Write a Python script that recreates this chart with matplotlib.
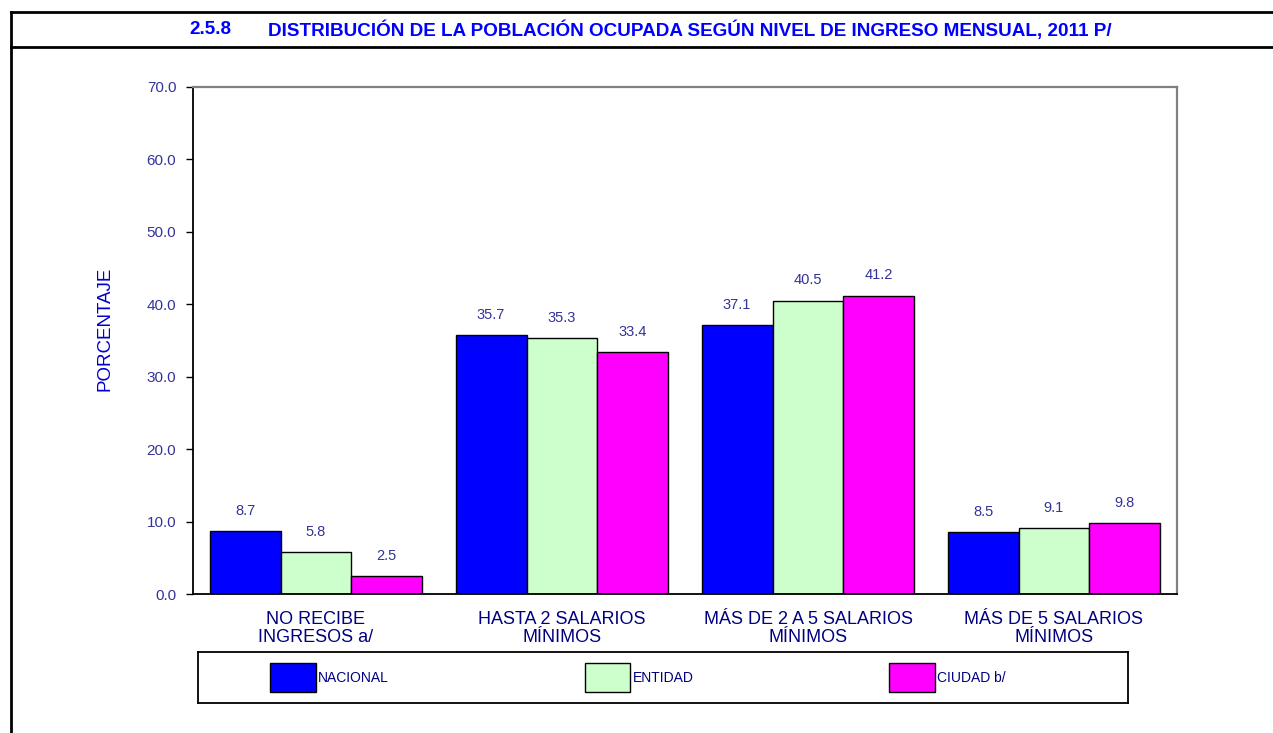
import numpy as np
import matplotlib
matplotlib.use("Agg")
import matplotlib.pyplot as plt
from matplotlib.lines import Line2D

################################################################
categorias = ["NO RECIBE\nINGRESOS a/", "HASTA 2 SALARIOS\nMÍNIMOS",
              "MÁS DE 2 A 5 SALARIOS\nMÍNIMOS", "MÁS DE 5 SALARIOS\nMÍNIMOS"]
nacional = [8.7, 35.7, 37.1, 8.5]
entidad = [5.8, 35.3, 40.5, 9.1]
ciudad = [2.5, 33.4, 41.2, 9.8]
series = ["NACIONAL", "ENTIDAD", "CIUDAD b/"]
colores = ["#0000FF", "#CCFFCC", "#FF00FF"]
yticks = [0, 10, 20, 30, 40, 50, 60, 70]
################################################################

plt.rcParams['font.family'] = ['Liberation Sans', 'DejaVu Sans']

W, H = 1273, 733
fig = plt.figure(figsize=(W / 100, H / 100), dpi=100)

# frame lines of the sheet
lw = 2
fig.add_artist(Line2D([11 / W, 1], [1 - 12 / H, 1 - 12 / H], color="black", lw=lw))
fig.add_artist(Line2D([11 / W, 1], [1 - 47 / H, 1 - 47 / H], color="black", lw=lw))
fig.add_artist(Line2D([11 / W, 11 / W], [0, 1 - 12 / H], color="black", lw=lw))

fig.text(189 / W, 1 - 30 / H, "2.5.8", color="#0000FF", fontsize=13.6,
         fontweight="bold", va="center", ha="left")
fig.text(268 / W, 1 - 30 / H,
         "DISTRIBUCIÓN DE LA POBLACIÓN OCUPADA SEGÚN NIVEL DE INGRESO MENSUAL, 2011 P/",
         color="#0000FF", fontsize=13.6, fontweight="bold", va="center", ha="left")

ax = fig.add_axes([193 / W, 1 - 594 / H, (1177 - 193) / W, (594 - 87) / H])
x = np.arange(len(categorias))
width = 0.288
for i, (vals, col) in enumerate(zip([nacional, entidad, ciudad], colores)):
    bars = ax.bar(x + (i - 1) * width, vals, width, color=col, edgecolor="black",
                  linewidth=1, label=series[i])
    for b, v in zip(bars, vals):
        ax.annotate(f"{v:.1f}", (b.get_x() + b.get_width() / 2, v),
                    xytext=(0, 9.5), textcoords="offset points", ha="center",
                    va="bottom", fontsize=10.5, color="#333399")

ax.set_xlim(-0.5, len(categorias) - 0.5)
ax.set_ylim(0, 70)
ax.set_yticks(yticks)
ax.set_yticklabels([f"{t:.1f}" for t in yticks], color="#333399", fontsize=11)
ax.set_xticks(x)
ax.set_xticklabels(categorias, color="#000080", fontsize=13, linespacing=1.12)
ax.tick_params(axis="x", length=0, pad=12)
ax.tick_params(axis="y", length=5, width=1, direction="out", pad=7)
for s in ["left", "bottom"]:
    ax.spines[s].set_color("black")
    ax.spines[s].set_linewidth(1.3)
for s in ["top", "right"]:
    ax.spines[s].set_color("#808080")
    ax.spines[s].set_linewidth(1.6)

fig.text(105 / W, 1 - 329 / H, "PORCENTAJE", rotation=90, color="#0000CC",
         fontsize=13.5, ha="center", va="center")

# legend box
lax = fig.add_axes([198 / W, 1 - 703 / H, 930 / W, 51 / H])
lax.set_xticks([])
lax.set_yticks([])
for s in lax.spines.values():
    s.set_linewidth(1.3)
handles, labels = ax.get_legend_handles_labels()
leg = lax.legend(handles, labels, loc="center left", bbox_to_anchor=(72 / 930, 0.5),
                 ncol=3, frameon=False, handlelength=3.3, handleheight=2.8,
                 handletextpad=0.15, columnspacing=14.1, borderaxespad=0,
                 borderpad=0, prop={"size": 10})
for t in leg.get_texts():
    t.set_color("#000080")

fig.savefig("out.png", dpi=100)
